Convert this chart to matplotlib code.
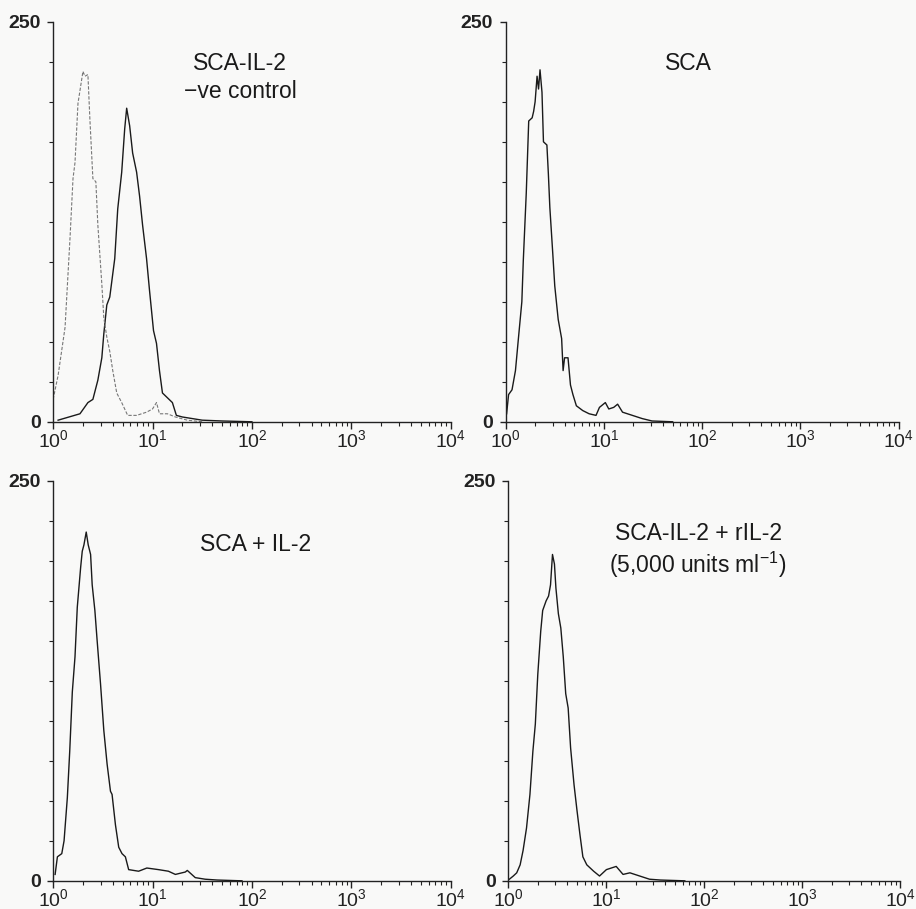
import numpy as np
import matplotlib
matplotlib.use("Agg")
import matplotlib.pyplot as plt
from matplotlib.ticker import FixedLocator, LogLocator, NullFormatter

plt.rcParams['font.family'] = ['Liberation Sans', 'DejaVu Sans']
plt.rcParams['mathtext.fontset'] = 'custom'
plt.rcParams['mathtext.rm'] = 'Liberation Sans'
plt.rcParams['mathtext.it'] = 'Liberation Sans:italic'
plt.rcParams['mathtext.bf'] = 'Liberation Sans:bold'

# fluorescence positions are read as log10 decades, counts as events per channel
# panel 1: SCA-IL-2 (solid) and the -ve control (dotted)
p1_dec = [0.05, 0.27, 0.35, 0.40, 0.45, 0.49, 0.51, 0.54, 0.57, 0.62, 0.65, 0.69,
          0.72, 0.74, 0.77, 0.80, 0.84, 0.87, 0.90, 0.94, 0.97, 1.01, 1.04, 1.07,
          1.10, 1.15, 1.20, 1.24, 1.30, 1.40, 1.50, 1.70, 2.00]
p1_cnt = [1, 5, 12, 14, 26, 40, 55, 73, 78, 102, 133, 156,
          183, 196, 185, 168, 156, 141, 123, 102, 82, 57, 49, 32,
          18, 15, 12, 4, 3, 2, 1, 0.5, 0]
ctrl_dec = [0.00, 0.05, 0.12, 0.17, 0.20, 0.22, 0.25, 0.30, 0.32, 0.35, 0.37, 0.40,
            0.43, 0.45, 0.49, 0.51, 0.54, 0.57, 0.60, 0.64, 0.69, 0.75, 0.84, 0.94,
            1.00, 1.04, 1.07, 1.15, 1.23, 1.35, 1.50]
ctrl_cnt = [14, 29, 59, 115, 152, 162, 199, 219, 216, 217, 189, 152,
            150, 123, 86, 65, 53, 44, 32, 18, 12, 4, 4, 6,
            8, 12, 5, 5, 3, 1, 0]

# panel 2: SCA
p2_dec = [0.01, 0.03, 0.065, 0.10, 0.13, 0.165, 0.18, 0.21, 0.235, 0.27, 0.285, 0.30,
          0.32, 0.335, 0.35, 0.37, 0.385, 0.42, 0.435, 0.45, 0.48, 0.50, 0.535, 0.57,
          0.585, 0.60, 0.635, 0.66, 0.685, 0.72, 0.785, 0.85, 0.92, 0.955, 1.015, 1.05,
          1.10, 1.14, 1.19, 1.29, 1.39, 1.49, 1.70]
p2_cnt = [5, 17, 20, 32, 52, 75, 101, 143, 188, 190, 194, 200,
          216, 208, 220, 206, 175, 173, 155, 134, 105, 85, 64, 52,
          32, 40, 40, 23, 17, 10, 7, 5, 4, 9, 12, 8,
          9, 11, 6, 4, 2, 0.5, 0]

# panel 3: SCA + IL-2
p3_dec = [0.02, 0.043, 0.087, 0.11, 0.143, 0.167, 0.193, 0.22, 0.243, 0.277, 0.293, 0.31,
          0.333, 0.353, 0.377, 0.393, 0.42, 0.443, 0.477, 0.51, 0.543, 0.577, 0.593, 0.627,
          0.66, 0.693, 0.727, 0.76, 0.86, 0.943, 1.06, 1.16, 1.23, 1.33, 1.35, 1.43,
          1.53, 1.65, 1.90]
p3_cnt = [4, 15, 17, 25, 52, 81, 118, 140, 171, 196, 206, 210,
          218, 210, 204, 185, 169, 150, 123, 94, 73, 56, 54, 35,
          21, 17, 15, 7, 6, 8, 7, 6, 4, 5.5, 6.5, 2,
          1, 0.5, 0]

# panel 4: SCA-IL-2 + rIL-2
p4_dec = [0.01, 0.05, 0.085, 0.12, 0.15, 0.185, 0.22, 0.25, 0.275, 0.30, 0.33, 0.35,
          0.385, 0.41, 0.43, 0.45, 0.47, 0.485, 0.51, 0.535, 0.56, 0.585, 0.61, 0.635,
          0.67, 0.70, 0.73, 0.76, 0.80, 0.87, 0.93, 1.00, 1.10, 1.17, 1.24, 1.34,
          1.44, 1.55, 1.80]
p4_cnt = [1, 3, 5, 10, 19, 33, 54, 81, 98, 129, 156, 169,
          175, 178, 185, 204, 198, 183, 167, 158, 140, 117, 108, 83,
          60, 44, 29, 15, 10, 6, 3, 7, 9, 4, 5, 3,
          1, 0.5, 0]

panels = [
    (0.058, 0.536, 0.434, p1_dec, p1_cnt, ["SCA-IL-2", "\u2212ve control"], (0.47, [0.896, 0.826])),
    (0.552, 0.536, 0.429, p2_dec, p2_cnt, ["SCA"], (0.466, [0.896])),
    (0.058, 0.031, 0.434, p3_dec, p3_cnt, ["SCA + IL-2"], (0.509, [0.841])),
    (0.555, 0.031, 0.428, p4_dec, p4_cnt, ["SCA-IL-2 + rIL-2", "(5,000 units ml$^{-1}$)"],
     (0.484, [0.868, 0.79])),
]

fig = plt.figure(figsize=(9.16, 9.09), dpi=100, facecolor='#f9f9f8')

axes = []
for left, bottom, width, dec, cnt, labels, (tx, tys) in panels:
    ax = fig.add_axes([left, bottom, width, 0.44])
    ax.set_facecolor('none')
    ax.plot(np.power(10.0, dec), cnt, color='#1a1a1a', lw=1.0)
    ax.set_xscale('log')
    ax.set_xlim(1, 1e4)
    ax.set_ylim(0, 250)
    for s in ['top', 'right']:
        ax.spines[s].set_visible(False)
    for s in ['left', 'bottom']:
        ax.spines[s].set_linewidth(1.0)
        ax.spines[s].set_color('#222222')
    ax.xaxis.set_major_locator(FixedLocator([1, 10, 100, 1000, 10000]))
    ax.xaxis.set_minor_locator(LogLocator(base=10, subs=np.arange(2, 10)))
    ax.xaxis.set_minor_formatter(NullFormatter())
    ax.tick_params(axis='x', which='major', length=5, width=1, labelsize=14, pad=0.5,
                   colors='#222222')
    ax.tick_params(axis='x', which='minor', length=3, width=0.8, colors='#222222')
    ax.yaxis.set_major_locator(FixedLocator([0, 250]))
    ax.yaxis.set_minor_locator(FixedLocator(np.arange(25, 250, 25)))
    ax.tick_params(axis='y', which='major', length=4, width=1, labelsize=14, pad=5,
                   colors='#222222')
    ax.tick_params(axis='y', which='minor', length=3, width=0.8, colors='#222222')
    for lab in ax.get_yticklabels():
        lab.set_fontweight('bold')
    for lab, ty in zip(labels, tys):
        ax.text(tx, ty, lab, transform=ax.transAxes, ha='center', va='center',
                fontsize=16.5, color='#1a1a1a')
    axes.append(ax)

axes[0].plot(np.power(10.0, ctrl_dec), ctrl_cnt, color='#777777', lw=0.8,
             linestyle=(0, (3, 1.5)))

fig.savefig('out.png', dpi=100, facecolor=fig.get_facecolor())
